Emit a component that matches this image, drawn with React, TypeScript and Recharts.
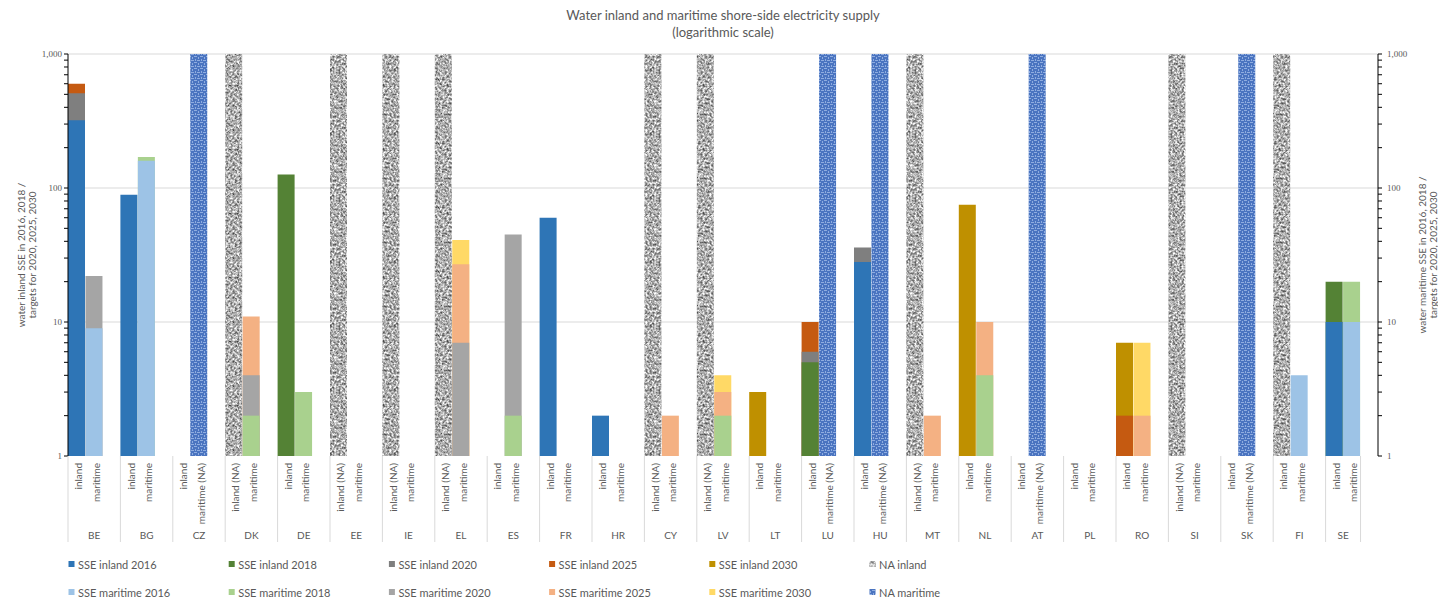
import React from 'react';
import { BarChart, Bar, XAxis, YAxis, CartesianGrid } from 'recharts';

// ---------- data ----------
const countries = ['BE', 'BG', 'CZ', 'DK', 'DE', 'EE', 'IE', 'EL', 'ES', 'FR', 'HR', 'CY', 'LV', 'LT', 'LU', 'HU', 'MT', 'NL', 'AT', 'PL', 'RO', 'SI', 'SK', 'FI', 'SE'];

const inlandLabels = ['inland', 'inland', 'inland', 'inland (NA)', 'inland', 'inland (NA)', 'inland (NA)', 'inland (NA)', 'inland', 'inland', 'inland', 'inland (NA)', 'inland (NA)', 'inland', 'inland', 'inland', 'inland (NA)', 'inland', 'inland', 'inland', 'inland', 'inland (NA)', 'inland', 'inland', 'inland'];
const maritimeLabels = ['maritime', 'maritime', 'maritime (NA)', 'maritime', 'maritime', 'maritime', 'maritime', 'maritime', 'maritime', 'maritime', 'maritime', 'maritime', 'maritime', 'maritime', 'maritime (NA)', 'maritime (NA)', 'maritime', 'maritime', 'maritime (NA)', 'maritime', 'maritime', 'maritime', 'maritime (NA)', 'maritime', 'maritime'];

//                  BE    BG    CZ    DK    DE    EE    IE    EL    ES    FR    HR    CY    LV    LT    LU    HU    MT    NL    AT    PL    RO    SI    SK    FI    SE
const inland2016 = [320, 89, null, null, null, null, null, null, null, 60, 2, null, null, null, null, 28, null, null, null, null, null, null, null, null, 10];
const inland2018 = [null, null, null, null, 126, null, null, null, null, null, null, null, null, null, 5, null, null, null, null, null, null, null, null, null, 20];
const inland2020 = [510, null, null, null, null, null, null, null, null, null, null, null, null, null, 6, 36, null, null, null, null, null, null, null, null, null];
const inland2025 = [600, null, null, null, null, null, null, null, null, null, null, null, null, null, 10, null, null, null, null, null, 2, null, null, null, null];
const inland2030 = [null, null, null, null, null, null, null, null, null, null, null, null, null, 3, null, null, null, 75, null, null, 7, null, null, null, null];
const naInland = [null, null, null, 1000, null, 1000, 1000, 1000, null, null, null, 1000, 1000, null, null, null, 1000, null, null, null, null, 1000, null, 1000, null];

const maritime2016 = [9, 160, null, null, null, null, null, null, null, null, null, null, null, null, null, null, null, null, null, null, null, null, null, 4, 10];
const maritime2018 = [null, 170, null, 2, 3, null, null, null, 2, null, null, null, 2, null, null, null, null, 4, null, null, null, null, null, null, 20];
const maritime2020 = [22, null, null, 4, null, null, null, 7, 45, null, null, null, null, null, null, null, null, null, null, null, null, null, null, null, null];
const maritime2025 = [null, null, null, 11, null, null, null, 27, null, null, null, 2, 3, null, null, null, 2, 10, null, null, 2, null, null, null, null];
const maritime2030 = [null, null, null, null, null, null, null, 41, null, null, null, null, 4, null, null, null, null, null, null, null, 7, null, null, null, null];
const naMaritime = [null, null, 1000, null, null, null, null, null, null, null, null, null, null, null, 1000, 1000, null, null, 1000, null, null, null, 1000, null, null];

const yTicks = [1, 2, 3, 4, 5, 6, 7, 8, 9, 10, 20, 30, 40, 50, 60, 70, 80, 90, 100, 200, 300, 400, 500, 600, 700, 800, 900, 1000];
const yTickLabels: Record<number, string> = { 1: '1', 10: '10', 100: '100', 1000: '1,000' };
const gridValues = [10, 100, 1000];

const titleLines = ['Water inland and maritime shore-side electricity supply', '(logarithmic scale)'];
const leftTitle = ['water inland SSE in 2016, 2018 /', 'targets for 2020, 2025, 2030'];
const rightTitle = ['water maritime SSE in 2016, 2018 /', 'targets for 2020, 2025, 2030'];

// series definitions
const inlandSeries = [
  { key: 'i2016', name: 'SSE inland 2016', color: '#2E75B6', values: inland2016 },
  { key: 'i2018', name: 'SSE inland 2018', color: '#548235', values: inland2018 },
  { key: 'i2020', name: 'SSE inland 2020', color: '#7F7F7F', values: inland2020 },
  { key: 'i2025', name: 'SSE inland 2025', color: '#C55A11', values: inland2025 },
  { key: 'i2030', name: 'SSE inland 2030', color: '#BF9000', values: inland2030 },
  { key: 'naI', name: 'NA inland', color: 'url(#naInlandPat)', values: naInland },
];
const maritimeSeries = [
  { key: 'm2016', name: 'SSE maritime 2016', color: '#9DC3E6', values: maritime2016 },
  { key: 'm2018', name: 'SSE maritime 2018', color: '#A9D18E', values: maritime2018 },
  { key: 'm2020', name: 'SSE maritime 2020', color: '#A5A5A5', values: maritime2020 },
  { key: 'm2025', name: 'SSE maritime 2025', color: '#F4B183', values: maritime2025 },
  { key: 'm2030', name: 'SSE maritime 2030', color: '#FFD966', values: maritime2030 },
  { key: 'naM', name: 'NA maritime', color: 'url(#naMaritimePat)', values: naMaritime },
];

// ---------- rows (inland, maritime, spacer per country) ----------
type Row = { [k: string]: any };
const rows: Row[] = [];
countries.forEach((c, i) => {
  const last = i === countries.length - 1;
  const inl: Row = { key: `${c}-i`, sub: inlandLabels[i], country: c, groupRows: last ? 2 : 3 };
  inlandSeries.forEach((s) => (inl[s.key] = s.values[i]));
  rows.push(inl);
  const mar: Row = { key: `${c}-m`, sub: maritimeLabels[i], groupRows: 0 };
  maritimeSeries.forEach((s) => (mar[s.key] = s.values[i]));
  rows.push(mar);
  if (!last) rows.push({ key: `${c}-s`, sub: '', groupRows: 0 });
});
rows.push({ key: 'end-s', sub: '', groupRows: 1, country: '' });
const rowByKey: Record<string, Row> = {};
rows.forEach((r) => (rowByKey[r.key] = r));

// ---------- layout ----------
const W = 1430;
const H = 596;
const MARGIN_TOP = 46;
const MARGIN_BOTTOM = 48;
const X_AXIS_H = 100;
const AXIS_Y = H - MARGIN_BOTTOM - X_AXIS_H; // 448
const PLOT_LEFT = 60;
const PLOT_RIGHT = 1370;
const BAND = (PLOT_RIGHT - PLOT_LEFT) / rows.length;
const FONT = 'Lato, "Open Sans", sans-serif';
const TXT = '#595959';

const drawOrder = ['naI', 'naM', 'i2030', 'm2030', 'i2025', 'm2025', 'i2020', 'm2020', 'i2018', 'm2018', 'i2016', 'm2016'];
const allSeries = [...inlandSeries, ...maritimeSeries];
const seriesByKey: Record<string, any> = {};
allSeries.forEach((s) => (seriesByKey[s.key] = s));

const XTick = (props: any) => {
  const { x, payload } = props;
  const row = rowByKey[payload.value];
  if (!row) return null;
  const y = AXIS_Y;
  const left = x - BAND / 2;
  return (
    <g>
      {row.sub ? (
        <text
          transform={`translate(${x + 1.5},${y + 7}) rotate(-90)`}
          textAnchor="end"
          dominantBaseline="central"
          fontSize={10}
          fill={TXT}
          fontFamily={FONT}
        >
          {row.sub}
        </text>
      ) : null}
      {row.groupRows > 0 ? <line x1={left} x2={left} y1={y} y2={y + 86} stroke="#D9D9D9" strokeWidth={1} /> : null}
      {row.groupRows > 0 && row.country ? (
        <text
          x={left + (row.groupRows * BAND) / 2}
          y={y + 79}
          textAnchor="middle"
          dominantBaseline="central"
          fontSize={10}
          fill={TXT}
          fontFamily={FONT}
        >
          {row.country}
        </text>
      ) : null}
    </g>
  );
};

const yFmt = (v: number) => yTickLabels[v] ?? '';

const Swatch = ({ x, y, fill }: { x: number; y: number; fill: string }) => (
  <rect x={x} y={y - 3} width={6} height={6} fill={fill} />
);

export default function App() {
  return (
    <div style={{ position: 'relative', width: W, height: H }}>
      <svg width={0} height={0} style={{ position: 'absolute' }}>
        <defs>
          <filter id="graniteF" x="0" y="0" width="100%" height="100%" colorInterpolationFilters="sRGB">
            <feTurbulence type="fractalNoise" baseFrequency="0.45" numOctaves={3} seed={7} stitchTiles="stitch" result="n" />
            <feColorMatrix
              in="n"
              type="matrix"
              values="1.25 0 0 0 0.06  1.25 0 0 0 0.06  1.25 0 0 0 0.06  0 0 0 0 1"
            />
          </filter>
          <pattern id="naInlandPat" patternUnits="userSpaceOnUse" width={64} height={64}>
            <rect width={64} height={64} fill="#A8A8A8" filter="url(#graniteF)" />
          </pattern>
          <pattern id="naMaritimePat" patternUnits="userSpaceOnUse" width={6} height={6}>
            <rect width={6} height={6} fill="#4A74C0" />
            <rect x={0} y={0} width={3} height={1} fill="#8FADE0" />
            <rect x={4} y={1} width={1} height={2} fill="#8FADE0" />
            <rect x={3} y={4} width={3} height={1} fill="#8FADE0" />
            <rect x={1} y={3} width={1} height={2} fill="#8FADE0" />
          </pattern>
        </defs>
      </svg>
      <BarChart
        width={W}
        height={H}
        data={rows}
        margin={{ top: MARGIN_TOP, right: 0, left: 0, bottom: MARGIN_BOTTOM }}
        barCategoryGap={0}
        barGap={0}
      >
        <CartesianGrid
          xAxisId="main"
          yAxisId="left"
          vertical={false}
          horizontalValues={gridValues}
          stroke="#D9D9D9"
        />
        <XAxis
          xAxisId="main"
          dataKey="key"
          interval={0}
          height={X_AXIS_H}
          tickLine={false}
          tickSize={0}
          tickMargin={0}
          axisLine={{ stroke: '#D9D9D9' }}
          tick={<XTick />}
        />
        {drawOrder.map((k) => (
          <XAxis key={`ax-${k}`} xAxisId={k} dataKey="key" hide />
        ))}
        <YAxis
          yAxisId="left"
          type="number"
          scale="log"
          domain={[1, 1000]}
          allowDataOverflow
          ticks={yTicks}
          interval={0}
          tickFormatter={yFmt}
          width={60}
          tickSize={4}
          tickMargin={2}
          axisLine={{ stroke: '#000' }}
          tickLine={{ stroke: '#000' }}
          tick={{ fill: TXT, fontSize: 9, fontFamily: '"Liberation Serif", serif' }}
        />
        <YAxis
          yAxisId="right"
          orientation="right"
          type="number"
          scale="log"
          domain={[1, 1000]}
          allowDataOverflow
          ticks={yTicks}
          interval={0}
          tickFormatter={yFmt}
          width={60}
          tickSize={4}
          tickMargin={5}
          axisLine={{ stroke: '#000' }}
          tickLine={{ stroke: '#000' }}
          tick={{ fill: TXT, fontSize: 9, fontFamily: '"Liberation Serif", serif' }}
        />
        {drawOrder.map((k) => (
          <Bar
            key={k}
            xAxisId={k}
            yAxisId="left"
            dataKey={k}
            name={seriesByKey[k].name}
            fill={seriesByKey[k].color}
            isAnimationActive={false}
          />
        ))}
      </BarChart>

      <svg width={W} height={H} style={{ position: 'absolute', left: 0, top: 0, pointerEvents: 'none' }}>
        {titleLines.map((t, i) => (
          <text
            key={t}
            x={715}
            y={7 + i * 17}
            textAnchor="middle"
            dominantBaseline="central"
            fontSize={13}
            fill={TXT}
            fontFamily={FONT}
          >
            {t}
          </text>
        ))}

        {leftTitle.map((t, i) => (
          <text
            key={t}
            transform={`translate(${12.7 + i * 11.3},247) rotate(-90)`}
            textAnchor="middle"
            dominantBaseline="central"
            fontSize={10}
            fill={TXT}
            fontFamily={FONT}
          >
            {t}
          </text>
        ))}
        {rightTitle.map((t, i) => (
          <text
            key={t}
            transform={`translate(${1413.7 + i * 11.3},247) rotate(-90)`}
            textAnchor="middle"
            dominantBaseline="central"
            fontSize={10}
            fill={TXT}
            fontFamily={FONT}
          >
            {t}
          </text>
        ))}

        {[inlandSeries, maritimeSeries].map((group, r) =>
          group.map((s, c) => {
            const x = 60.5 + c * 160.2;
            const y = 556 + r * 28;
            return (
              <g key={s.key}>
                <Swatch x={x} y={y} fill={s.color} />
                <text x={x + 9.5} y={y} dominantBaseline="central" fontSize={11} fill={TXT} fontFamily={FONT}>
                  {s.name}
                </text>
              </g>
            );
          })
        )}
      </svg>
    </div>
  );
}
